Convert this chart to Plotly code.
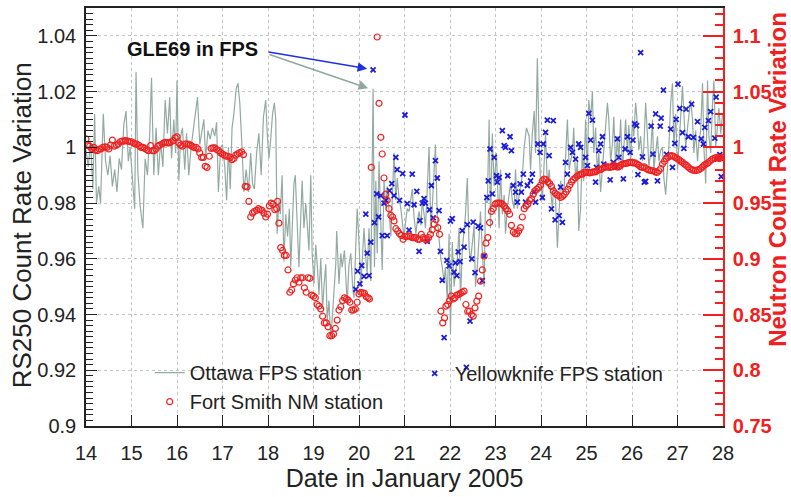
import plotly.graph_objects as go

# ---------------- data ----------------
ottawa_day = [14.00,14.05,14.10,14.15,14.19,14.23,14.28,14.32,14.38,14.43,14.48,14.53,14.58,14.63,14.68,14.73,14.78,14.83,14.88,14.93,14.97,
 15.02,15.07,15.10,15.14,15.19,15.25,15.30,15.35,15.40,15.44,15.49,15.54,15.59,15.64,15.69,15.74,15.79,15.84,15.88,15.93,15.97,
 16.00,16.04,16.08,16.12,16.17,16.21,16.26,16.31,16.36,16.41,16.45,16.50,16.55,16.59,16.63,16.68,16.73,16.78,16.83,16.87,16.91,16.96,
 17.00,17.05,17.09,17.13,17.17,17.21,17.25,17.30,17.34,17.38,17.42,17.47,17.52,17.57,17.62,17.66,17.70,17.75,17.80,17.85,17.90,17.95,17.98,
 18.02,18.06,18.10,18.14,18.17,18.20,18.24,18.27,18.31,18.35,18.39,18.43,18.47,18.50,18.54,18.57,18.60,18.64,18.68,18.72,18.75,18.79,18.83,18.86,18.90,18.94,18.97,
 19.01,19.05,19.09,19.12,19.16,19.20,19.23,19.27,19.30,19.34,19.38,19.42,19.45,19.49,19.51,19.56,19.60,19.63,19.68,19.71,19.74,19.78,19.82,19.86,19.89,19.93,19.96,
 20.00,20.04,20.08,20.11,20.15,20.18,20.22,20.26,20.31,20.34,20.37,20.40,20.44,20.48,20.51,20.55,20.59,20.62,20.66,20.70,20.74,20.77,20.81,20.84,20.88,20.92,20.96,20.99,
 21.03,21.06,21.10,21.14,21.17,21.21,21.25,21.28,21.32,21.36,21.39,21.43,21.46,21.50,21.54,21.58,21.62,21.65,21.68,21.72,21.76,21.79,21.83,21.87,21.90,21.94,21.98,
 22.01,22.05,22.09,22.12,22.16,22.20,22.23,22.27,22.31,22.34,22.38,22.42,22.45,22.49,22.53,22.56,22.60,22.64,22.67,22.71,22.75,22.78,22.82,22.86,22.89,22.93,22.97,
 23.02,23.08,23.11,23.15,23.19,23.22,23.26,23.30,23.33,23.37,23.41,23.44,23.48,23.52,23.55,23.59,23.63,23.68,23.74,23.77,23.81,23.85,23.88,23.92,23.96,23.99,
 24.03,24.07,24.10,24.14,24.18,24.21,24.25,24.28,24.32,24.36,24.39,24.43,24.47,24.51,24.58,24.62,24.65,24.69,24.72,24.76,24.80,24.83,24.87,24.91,24.94,24.98,
 25.02,25.05,25.09,25.13,25.16,25.20,25.24,25.27,25.31,25.35,25.38,25.42,25.46,25.49,25.53,25.57,25.60,25.64,25.68,25.71,25.75,25.79,25.82,25.86,25.90,25.93,25.97,
 26.01,26.04,26.08,26.12,26.15,26.19,26.23,26.26,26.30,26.34,26.37,26.41,26.45,26.48,26.52,26.56,26.59,26.63,26.67,26.70,26.74,26.78,26.81,26.85,26.89,26.92,26.96,
 27.00,27.03,27.07,27.11,27.14,27.18,27.22,27.26,27.29,27.33,27.36,27.40,27.44,27.47,27.51,27.55,27.58,27.62,27.66,27.69,27.73,27.77,27.80,27.84,27.88,27.91,27.95,27.99]
ottawa_val = [0.999,0.993,1.002,0.985,1.012,0.980,0.986,0.980,1.012,0.995,0.990,0.997,0.986,0.992,0.984,0.996,0.992,1.008,1.013,0.995,1.000,
 0.990,0.978,1.027,0.991,0.979,0.971,0.996,0.990,1.005,1.025,0.990,1.007,0.990,1.002,0.993,1.017,1.005,1.018,0.996,1.010,0.998,
 1.024,0.988,1.004,1.007,0.992,1.005,0.990,1.000,1.007,1.014,1.018,1.001,1.006,1.010,0.996,1.006,1.003,1.007,1.004,1.009,0.984,1.000,
 1.001,0.993,0.981,1.000,0.985,1.007,1.012,1.021,1.023,1.016,1.003,0.984,0.992,0.984,0.998,0.987,0.985,0.998,1.005,0.990,1.011,1.017,1.006,
 0.996,1.003,1.012,1.016,1.010,0.969,0.981,0.976,0.990,0.959,0.976,0.968,0.978,0.957,0.972,0.987,0.990,0.970,0.957,0.975,0.988,0.971,0.980,0.973,0.963,0.990,0.962,
 0.951,0.965,0.956,0.947,0.960,0.942,0.950,0.958,0.938,0.945,0.931,0.942,0.949,0.958,0.970,0.951,0.962,0.957,0.963,0.953,0.944,0.958,0.962,0.950,0.946,0.965,0.978,
 0.966,0.950,0.962,0.971,0.960,0.955,0.971,0.952,1.021,0.957,0.988,0.962,0.995,0.969,0.956,0.988,0.978,0.986,0.975,0.968,0.985,0.998,0.981,0.989,0.982,0.978,0.972,0.968,
 0.974,0.978,0.977,0.981,0.985,0.975,0.969,0.973,0.977,0.972,0.981,0.976,0.971,0.985,1.000,0.969,0.982,0.991,1.001,0.975,0.966,0.961,0.957,0.952,0.957,0.945,0.969,
 0.933,0.966,0.950,0.955,0.960,0.971,0.945,0.963,0.969,0.976,0.989,0.964,0.959,0.966,0.972,0.950,0.957,0.968,0.977,0.963,0.950,0.981,0.980,1.010,0.971,1.005,0.986,
 0.998,0.971,0.992,0.976,0.983,0.969,0.978,0.983,0.987,0.981,0.978,0.992,0.978,0.983,0.986,0.990,1.000,1.007,1.004,0.992,1.005,1.013,0.998,1.032,1.000,0.988,
 0.981,0.995,1.005,0.986,0.992,0.985,0.978,0.986,0.981,0.964,0.976,0.988,0.984,0.986,1.010,0.992,0.995,0.998,1.007,0.988,0.995,0.970,0.978,1.000,0.988,1.010,
 0.990,1.017,1.010,1.020,0.998,1.007,0.990,0.998,0.984,0.993,0.998,1.006,1.016,1.010,0.995,1.001,1.011,0.993,1.004,0.995,1.010,0.992,1.002,1.010,0.998,1.008,0.995,
 1.010,1.004,1.016,1.008,0.999,1.004,0.995,1.000,1.016,1.004,0.993,0.998,1.010,0.992,0.998,1.004,0.995,0.999,1.000,0.989,0.983,0.993,1.000,1.016,1.023,1.000,1.012,
 0.992,1.000,1.012,1.022,1.012,1.000,1.007,1.012,1.017,1.010,0.998,1.006,0.995,1.002,1.006,1.023,1.000,0.987,1.024,1.004,0.998,1.016,1.024,1.000,1.010,1.014,1.005,1.012]

fortsmith_day = [14.00,14.04,14.08,14.12,14.17,14.21,14.25,14.29,14.33,14.37,14.42,14.46,14.50,14.54,14.58,14.62,14.67,14.71,14.75,14.79,14.83,14.87,14.92,14.96,
 15.00,15.04,15.08,15.12,15.17,15.21,15.25,15.29,15.33,15.37,15.42,15.46,15.50,15.54,15.58,15.62,15.67,15.71,15.75,15.79,15.83,15.87,15.92,15.96,
 16.00,16.04,16.08,16.12,16.17,16.21,16.25,16.29,16.33,16.37,16.42,16.46,16.50,16.54,16.58,16.62,16.66,16.71,16.75,16.79,16.83,16.87,16.92,16.96,
 17.00,17.04,17.08,17.12,17.17,17.21,17.25,17.29,17.33,17.37,17.42,17.46,17.50,17.54,17.58,17.62,17.66,17.70,17.75,17.79,17.83,17.87,17.91,17.95,17.99,
 18.03,18.07,18.11,18.15,18.19,18.21,18.24,18.28,18.32,18.36,18.40,18.44,18.48,18.52,18.56,18.60,18.64,18.68,18.72,18.76,18.80,18.84,18.88,18.92,18.96,
 19.00,19.04,19.08,19.12,19.16,19.20,19.24,19.28,19.32,19.36,19.40,19.44,19.48,19.52,19.56,19.60,19.64,19.68,19.72,19.76,19.80,19.84,19.88,19.92,19.96,
 20.00,20.04,20.08,20.12,20.16,20.20,20.23,20.27,20.40,20.44,20.48,20.51,20.55,20.59,20.62,20.66,20.70,20.74,20.77,20.81,20.85,20.89,20.93,20.97,
 21.01,21.05,21.09,21.13,21.17,21.21,21.25,21.29,21.33,21.37,21.41,21.45,21.49,21.53,21.57,21.61,21.65,21.69,21.73,21.77,21.80,21.84,21.88,21.91,21.95,21.99,
 22.03,22.07,22.11,22.15,22.19,22.23,22.27,22.31,22.35,22.39,22.43,22.47,22.51,22.55,22.59,22.63,22.67,22.71,22.75,22.79,22.83,22.87,22.91,22.95,22.99,
 23.03,23.07,23.11,23.15,23.19,23.23,23.27,23.31,23.35,23.39,23.43,23.47,23.51,23.55,23.59,23.63,23.67,23.71,23.75,23.79,23.83,23.87,23.91,23.95,23.99,
 24.03,24.07,24.11,24.15,24.19,24.23,24.27,24.31,24.35,24.39,24.43,24.47,24.51,24.55,24.59,24.63,24.67,24.71,24.75,24.79,24.83,24.87,24.91,24.95,24.99,
 25.03,25.07,25.11,25.15,25.19,25.23,25.27,25.31,25.35,25.39,25.43,25.47,25.51,25.55,25.59,25.63,25.67,25.71,25.75,25.79,25.83,25.87,25.91,25.95,25.99,
 26.03,26.07,26.11,26.15,26.19,26.23,26.27,26.31,26.35,26.39,26.43,26.47,26.51,26.55,26.59,26.63,26.67,26.71,26.75,26.79,26.83,26.87,26.91,26.95,26.99,
 27.03,27.07,27.11,27.15,27.19,27.23,27.27,27.31,27.35,27.39,27.43,27.47,27.51,27.55,27.59,27.63,27.67,27.71,27.75,27.79,27.83,27.87,27.91,27.95,27.99]
fortsmith_val = [1.0075,1.0015,1.001,0.999,1.000,0.9975,0.997,0.9985,0.9985,1.000,1.0005,1.000,0.9985,1.002,1.0065,1.001,1.002,1.003,1.005,1.0055,1.0055,1.006,1.0055,1.005,
 1.005,1.004,1.003,1.003,1.0015,1.000,1.000,0.999,0.998,0.997,1.0015,0.997,0.997,0.9985,1.001,1.002,1.003,1.004,1.0045,1.004,1.004,1.005,1.006,1.0085,
 1.0095,1.004,1.002,1.001,1.003,1.003,1.003,1.002,1.001,1.000,1.000,0.9985,0.995,0.991,0.991,0.983,0.982,0.992,0.999,0.9995,0.9995,0.998,0.997,0.995,
 0.994,0.993,0.992,0.992,0.991,0.989,0.990,0.993,0.994,0.995,0.996,0.9935,0.965,0.9645,0.9515,0.9375,0.941,0.9425,0.9435,0.945,0.944,0.9435,0.941,0.9375,0.940,
 0.9475,0.950,0.949,0.944,0.945,0.9515,0.932,0.910,0.9075,0.903,0.903,0.890,0.870,0.872,0.8775,0.881,0.883,0.879,0.883,0.883,0.874,0.870,0.883,0.8825,0.8675,
 0.8665,0.865,0.859,0.8575,0.855,0.8485,0.8425,0.8425,0.839,0.831,0.831,0.8325,0.8375,0.845,0.854,0.857,0.8625,0.865,0.864,0.863,0.861,0.854,0.854,0.855,0.861,
 0.8685,0.870,0.8695,0.869,0.866,0.865,0.864,0.982,1.099,1.0395,1.009,0.994,0.9725,0.958,0.9525,0.945,0.939,0.9375,0.934,0.927,0.925,0.9225,0.921,0.9175,
 0.920,0.920,0.9205,0.920,0.919,0.919,0.919,0.9175,0.9175,0.922,0.919,0.9175,0.917,0.919,0.922,0.926,0.931,0.935,0.928,0.922,0.853,0.8425,0.847,0.8575,0.859,0.8625,
 0.8665,0.864,0.865,0.8675,0.868,0.869,0.870,0.871,0.859,0.853,0.853,0.850,0.8485,0.856,0.862,0.8665,0.880,0.890,0.9025,0.914,0.919,0.9325,0.9425,0.945,0.949,
 0.950,0.950,0.950,0.949,0.9475,0.945,0.943,0.940,0.930,0.924,0.9225,0.9225,0.925,0.928,0.9375,0.945,0.9475,0.949,0.9525,0.954,0.958,0.961,0.9625,0.964,0.966,
 0.970,0.9715,0.971,0.969,0.9675,0.965,0.961,0.959,0.9575,0.9565,0.955,0.956,0.9575,0.960,0.9625,0.966,0.969,0.971,0.9725,0.974,0.975,0.976,0.976,0.9775,0.9775,
 0.9775,0.977,0.9775,0.978,0.978,0.979,0.980,0.980,0.981,0.982,0.9825,0.9825,0.982,0.9825,0.984,0.983,0.9825,0.9825,0.984,0.985,0.9855,0.9855,0.986,0.9865,0.9865,
 0.986,0.986,0.985,0.984,0.9825,0.982,0.9825,0.981,0.980,0.9795,0.979,0.979,0.978,0.9775,0.979,0.981,0.985,0.9875,0.990,0.991,0.992,0.9925,0.992,0.991,0.990,
 0.989,0.9875,0.9865,0.985,0.984,0.9825,0.981,0.980,0.9795,0.979,0.9795,0.980,0.981,0.9825,0.984,0.985,0.986,0.9875,0.989,0.990,0.9905,0.991,0.990,0.9905,0.991]

yknife_day = [19.93,19.97,20.02,20.06,20.11,20.15,20.18,20.22,20.26,20.31,20.34,20.39,20.43,20.48,20.51,20.55,20.59,20.62,20.67,20.72,20.77,20.81,20.84,20.89,20.96,
 21.01,21.06,21.10,21.17,21.21,21.27,21.32,21.34,21.39,21.43,21.46,21.50,21.55,21.59,21.63,21.68,21.72,21.76,21.79,21.83,21.87,21.93,21.98,
 22.01,22.05,22.09,22.12,22.15,22.18,22.22,22.27,22.31,22.36,22.38,22.44,22.48,22.51,22.55,22.62,22.67,22.71,22.75,22.81,22.84,22.88,22.93,22.97,
 23.02,23.04,23.08,23.15,23.19,23.22,23.27,23.32,23.35,23.39,23.44,23.48,23.54,23.57,23.61,23.66,23.70,23.77,23.81,23.85,23.88,23.93,23.98,
 24.03,24.05,24.10,24.14,24.18,24.23,24.27,24.31,24.40,24.43,24.47,24.54,24.58,24.65,24.69,24.76,24.83,24.87,24.98,
 25.02,25.05,25.09,25.13,25.20,25.22,25.27,25.31,25.35,25.38,25.52,25.59,25.64,25.68,25.71,25.81,25.85,25.90,25.96,
 26.02,26.06,26.10,26.13,26.19,26.23,26.27,26.30,26.42,26.46,26.52,26.56,26.62,26.64,26.69,26.76,26.85,26.89,26.94,26.97,
 27.01,27.05,27.11,27.14,27.19,27.24,27.31,27.35,27.44,27.52,27.57,27.60,27.68,27.73,27.82,27.85,27.88,27.93,27.96]
yknife_val = [0.949,0.9556,0.951,0.9576,0.9537,0.976,0.962,0.954,0.966,1.0278,0.973,0.9833,0.975,0.9827,0.9683,0.980,0.981,0.9683,0.9845,0.987,0.9827,0.9964,0.992,0.981,0.9906,
 1.0116,0.9798,0.9703,0.9904,0.9794,0.9842,0.9627,0.9737,0.980,0.9816,0.980,0.9663,0.9776,0.9863,0.9747,0.9952,0.989,0.9773,0.9627,0.9523,0.9317,0.9594,0.9575,
 0.9735,0.9744,0.9552,0.9585,0.954,0.9625,0.959,0.9701,0.9642,0.921,0.9723,0.9376,0.960,0.9732,0.955,0.9717,0.9711,0.9522,0.961,0.982,0.988,0.9994,0.9833,0.9964,
 0.9898,0.9875,0.9892,1.006,1.0006,1.000,0.9898,1.0038,0.9988,0.9863,0.9839,0.9803,0.9869,0.9839,0.9904,0.9803,0.9863,0.988,0.9904,0.984,0.9803,1.0012,0.9982,
 0.982,1.0012,1.0054,1.0098,0.997,0.9779,1.0096,0.974,0.9755,0.9857,0.9731,0.9946,0.9904,1.000,0.9982,0.9958,1.0012,1.000,0.9964,
 0.9934,1.0122,1.0026,1.0098,0.9875,0.9928,0.9988,1.0012,1.0038,0.994,0.9883,0.9946,0.9928,1.003,0.9964,0.9887,0.9994,1.0038,0.9982,
 1.0026,1.0084,1.0078,0.9902,1.034,0.9966,0.9875,0.9878,1.0076,0.9976,1.012,0.988,1.0076,1.0105,1.0205,0.9975,1.0065,0.9928,1.0014,1.010,
 1.0227,1.014,1.0053,0.9996,1.0137,1.0038,1.0155,1.0036,1.0092,1.003,1.0012,1.0072,1.0096,1.0128,1.0033,1.018,0.9958,0.9974,0.9895]

day_ticks = [14, 15, 16, 17, 18, 19, 20, 21, 22, 23, 24, 25, 26, 27, 28]
day_labels = [str(d) for d in day_ticks]
left_ticks = [0.90, 0.92, 0.94, 0.96, 0.98, 1.00, 1.02, 1.04]
left_labels = ["0.9", "0.92", "0.94", "0.96", "0.98", "1", "1.02", "1.04"]
right_ticks = [0.75, 0.80, 0.85, 0.90, 0.95, 1.00, 1.05, 1.10]
right_labels = ["0.75", "0.8", "0.85", "0.9", "0.95", "1", "1.05", "1.1"]

# ---------------- styling ----------------
FONT = "Liberation Sans, Arial, Helvetica, sans-serif"
GREEN = "#93aaa2"
RED = "#f02020"
BLUE = "#1c1cd6"
AXC = "#222222"

fig = go.Figure()
fig.add_trace(go.Scatter(x=ottawa_day, y=ottawa_val, mode="lines", name="Ottawa FPS station",
                         line=dict(color=GREEN, width=1.2), legend="legend"))
fig.add_trace(go.Scatter(x=yknife_day, y=yknife_val, mode="markers", name="Yellowknife FPS station",
                         marker=dict(symbol="x-thin", size=5, line=dict(color=BLUE, width=1.8)),
                         legend="legend2"))
fig.add_trace(go.Scatter(x=fortsmith_day, y=fortsmith_val, mode="markers", name="Fort Smith NM station",
                         yaxis="y2", legend="legend",
                         marker=dict(symbol="circle-open", size=6, color=RED, line=dict(color=RED, width=1.2))))

fig.update_layout(
    width=791, height=497,
    margin=dict(l=86, r=68, t=6, b=71),
    paper_bgcolor="white", plot_bgcolor="white",
    font=dict(family=FONT, color=AXC),
    xaxis=dict(range=[14, 28], tickmode="array", tickvals=day_ticks, ticktext=day_labels,
               ticks="inside", ticklen=11, tickwidth=1.3, tickcolor=AXC,
               showline=True, linecolor=AXC, linewidth=1.5, mirror=True,
               showgrid=True, gridcolor="#c4c4c4", griddash="dot", gridwidth=1,
               zeroline=False, tickfont=dict(size=20), ticklabelstandoff=8,
               title=dict(text="Date in January 2005", font=dict(size=25), standoff=6)),
    yaxis=dict(range=[0.9, 1.05], tickmode="array", tickvals=left_ticks, ticktext=left_labels,
               ticks="inside", ticklen=11, tickwidth=1.3, tickcolor=AXC,
               minor=dict(tickmode="linear", tick0=0.9, dtick=0.002, ticks="inside", ticklen=7,
                          tickcolor=AXC, tickwidth=1, showgrid=False),
               showline=True, linecolor=AXC, linewidth=1.5,
               showgrid=True, gridcolor="#c4c4c4", griddash="dot", gridwidth=1,
               zeroline=False, tickfont=dict(size=20), ticklabelstandoff=4),
    yaxis2=dict(range=[0.75, 1.125], overlaying="y", side="right", anchor="x",
                tickmode="array", tickvals=right_ticks, ticktext=right_labels,
                ticks="inside", ticklen=20, tickwidth=1.5, tickcolor=RED,
                minor=dict(tickmode="linear", tick0=0.75, dtick=0.01, ticks="inside", ticklen=8,
                           tickcolor=RED, tickwidth=1.5, showgrid=False),
                showline=True, linecolor=RED, linewidth=1.5, showgrid=False, zeroline=False,
                tickfont=dict(size=20, color=RED, weight="bold"), ticklabelstandoff=4),
    legend=dict(x=0.10, y=0.093, xanchor="left", yanchor="middle", bgcolor="rgba(0,0,0,0)",
                font=dict(size=20, color=AXC), tracegroupgap=0),
    legend2=dict(x=0.516, y=0.126, xanchor="left", yanchor="middle", bgcolor="rgba(0,0,0,0)",
                 font=dict(size=20, color=AXC)),
    showlegend=True,
)

# axis titles for the vertical axes (rotated text)
fig.add_annotation(text="RS250 Count Rate Variation", xref="paper", yref="paper",
                   x=-0.1005, y=0.48, xanchor="center", yanchor="middle", textangle=-90,
                   showarrow=False, font=dict(size=26, color=AXC))
fig.add_annotation(text="Neutron Count Rate Variation", xref="paper", yref="paper",
                   x=1.0855, y=0.59, xanchor="center", yanchor="middle", textangle=-90,
                   showarrow=False, font=dict(size=24, color=RED, weight="bold"))

# GLE69 annotation with two arrows
fig.add_annotation(text="GLE69 in FPS", x=16.35, y=1.0354, xref="x", yref="y", showarrow=False,
                   font=dict(size=20, color="#111111", weight="bold"))
fig.add_annotation(text="", x=20.18, y=1.0282, ax=17.98, ay=1.0343, xref="x", yref="y",
                   axref="x", ayref="y", showarrow=True, arrowhead=2, arrowsize=1.2,
                   arrowwidth=1.6, arrowcolor="#2030e0")
fig.add_annotation(text="", x=20.2, y=1.0212, ax=18.0, ay=1.0335, xref="x", yref="y",
                   axref="x", ayref="y", showarrow=True, arrowhead=2, arrowsize=1.2,
                   arrowwidth=1.6, arrowcolor="#90a89f")

fig.write_html("out.html")
